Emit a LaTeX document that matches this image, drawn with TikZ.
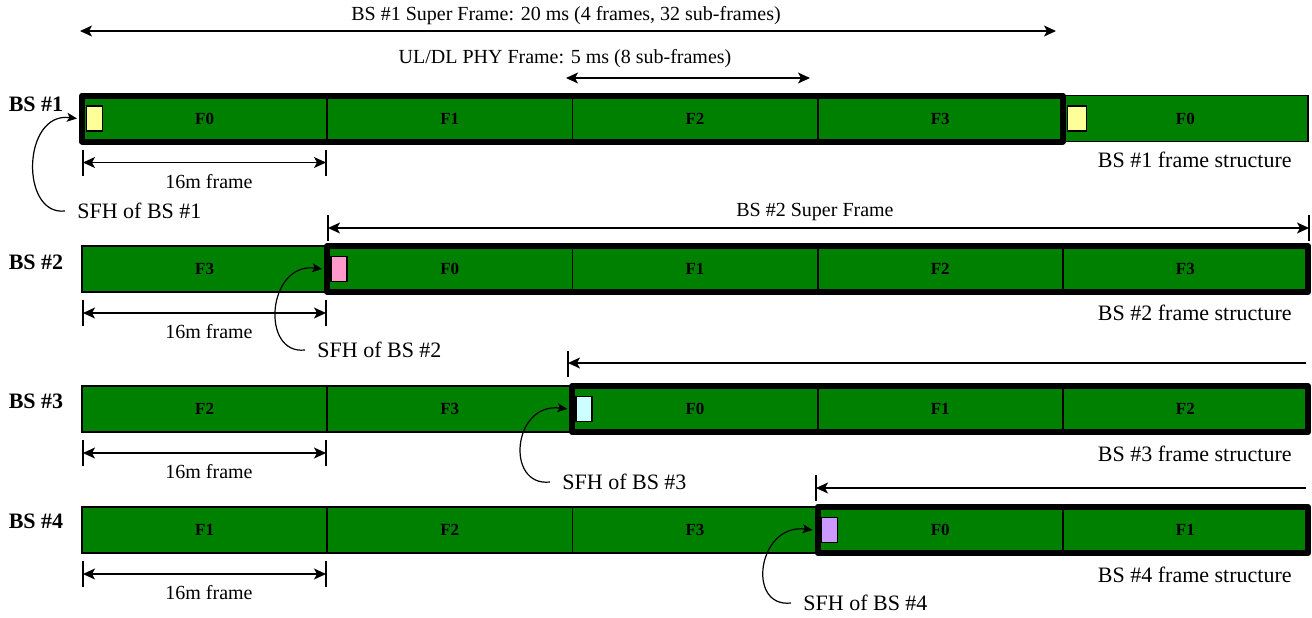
\documentclass[tikz,border=0pt]{standalone}
\usepackage{fontspec}
\setmainfont{Liberation Serif}
\usetikzlibrary{arrows.meta,fit}
\definecolor{framegreen}{RGB}{0,128,0}
\definecolor{sfhyellow}{RGB}{255,255,153}
\definecolor{sfhpink}{RGB}{255,153,204}
\definecolor{sfhcyan}{RGB}{204,255,255}
\definecolor{sfhpurple}{RGB}{204,153,255}
\tikzset{
  frame/.style={draw=black, line width=0.9pt, fill=framegreen, minimum width=122.6pt,
    minimum height=23pt, inner sep=0pt, outer sep=0pt, font=\bfseries\fontsize{8.5}{10}\selectfont},
  superbox/.style={draw=black, line width=3pt, line join=round, inner sep=0pt, outer sep=0pt},
  sfhbox/.style={draw=black, line width=0.7pt, minimum width=8pt, minimum height=12.5pt,
    inner sep=0pt, anchor=west},
  bslabel/.style={font=\bfseries\fontsize{11}{13}\selectfont, inner sep=0pt},
  smalltxt/.style={font=\fontsize{10}{12}\selectfont, inner sep=0pt},
  bigtxt/.style={font=\fontsize{11}{13}\selectfont, inner sep=0pt},
  tip/.tip={Stealth[length=6pt,width=5.5pt,inset=1.5pt]},
  dimline/.style={line width=0.6pt, tip-tip},
  leftline/.style={line width=0.6pt, tip-},
  tickline/.style={line width=0.6pt},
  curvearrow/.style={line width=0.6pt, -{Stealth[length=5pt,width=4.5pt,inset=1.2pt]}}
}
\begin{document}
\begin{tikzpicture}[x=0.5pt,y=-0.5pt]
\useasboundingbox (0,0) rectangle (1312,617);

% frames
\foreach \r/\y in {1/118.5,2/269,3/409,4/530} {
  \foreach \i in {0,...,4} {
    \pgfmathtruncatemacro\lab{mod(\i-\r+5,4)}
    \node[frame] (b\r f\i) at ({82+245.2*(\i+0.5)},\y) {F\lab};
  }
}

% thick super frame outlines
\node[superbox, fit=(b1f0)(b1f3)] (sb1) {};
\node[superbox, fit=(b2f1)(b2f4)] (sb2) {};
\node[superbox, fit=(b3f2)(b3f4)] (sb3) {};
\node[superbox, fit=(b4f3)(b4f4)] (sb4) {};

% SFH boxes
\node[sfhbox, fill=sfhyellow] (h1a) at ([xshift=1.75pt]b1f0.west) {};
\node[sfhbox, fill=sfhyellow, minimum width=9.5pt] (h1b) at ([xshift=2pt]b1f4.west) {};
\node[sfhbox, fill=sfhpink] (h2) at ([xshift=1.5pt]b2f1.west) {};
\node[sfhbox, fill=sfhcyan] (h3) at ([xshift=1.5pt]b3f2.west) {};
\node[sfhbox, fill=sfhpurple] (h4) at ([xshift=1.5pt]b4f3.west) {};

% BS labels
\node[bslabel] (l1) at (36,104) {BS \#1};
\node[bslabel] (l2) at (36,262) {BS \#2};
\node[bslabel] (l3) at (36,401) {BS \#3};
\node[bslabel] (l4) at (36,521) {BS \#4};

% top dimension lines
\node[smalltxt] (suptxt) at (566,16) {BS \#1 Super Frame: 20 ms (4 frames, 32 sub-frames)};
\coordinate (supL) at (80,31);
\coordinate (supR) at (1056,31);
\draw[dimline] (supL) -- (supR);
\node[smalltxt] (phytxt) at (565,59) {UL/DL PHY Frame: 5 ms (8 sub-frames)};
\coordinate (phyL) at (566,78);
\coordinate (phyR) at (810,78);
\draw[dimline] (phyL) -- (phyR);

% 16m frame dimensions and frame-structure labels
\foreach \r/\y/\fy in {1/118.5/160,2/269/313,3/409/454,4/530/575} {
  \coordinate (ta\r) at (83,\y+31);
  \coordinate (tb\r) at (83,\y+57);
  \coordinate (tc\r) at (326,\y+31);
  \coordinate (td\r) at (326,\y+57);
  \coordinate (da\r) at (83,\y+44);
  \coordinate (db\r) at (326,\y+44);
  \draw[tickline] (ta\r) -- (tb\r);
  \draw[tickline] (tc\r) -- (td\r);
  \draw[dimline] (da\r) -- (db\r);
  \node[smalltxt] (fm\r) at (209,\y+63) {16m frame};
  \node[bigtxt, anchor=east] (fs\r) at (1292,\fy) {BS \#\r{} frame structure};
}

% BS #2 super frame
\node[smalltxt] (sf2txt) at (815,212) {BS \#2 Super Frame};
\coordinate (s2a) at (328,215); \coordinate (s2b) at (328,241);
\coordinate (s2c) at (1309,215); \coordinate (s2d) at (1309,241);
\coordinate (s2l) at (328,228); \coordinate (s2r) at (1309,228);
\draw[tickline] (s2a) -- (s2b);
\draw[tickline] (s2c) -- (s2d);
\draw[dimline] (s2l) -- (s2r);

% BS #3 / BS #4 open-ended lines
\coordinate (s3a) at (568,351); \coordinate (s3b) at (568,377);
\coordinate (s3l) at (568,363); \coordinate (s3r) at (1306,363);
\draw[tickline] (s3a) -- (s3b);
\draw[leftline] (s3l) -- (s3r);
\coordinate (s4a) at (816,475); \coordinate (s4b) at (816,501);
\coordinate (s4l) at (816,488); \coordinate (s4r) at (1306,488);
\draw[tickline] (s4a) -- (s4b);
\draw[leftline] (s4l) -- (s4r);

% SFH labels and curved arrows
\node[bigtxt, anchor=west] (sfh1) at (77,211) {SFH of BS \#1};
\node[bigtxt, anchor=west] (sfh2) at (317,350) {SFH of BS \#2};
\node[bigtxt, anchor=west] (sfh3) at (562,482) {SFH of BS \#3};
\node[bigtxt, anchor=west] (sfh4) at (803,603) {SFH of BS \#4};
\foreach \n in {1,2,3,4} {
  \draw[curvearrow] ([xshift=-6pt]sfh\n.west) .. controls +(-45,5) and +(-55,-7) .. ([xshift=-2.5pt]sb\n.west);
}
\end{tikzpicture}
\end{document}
